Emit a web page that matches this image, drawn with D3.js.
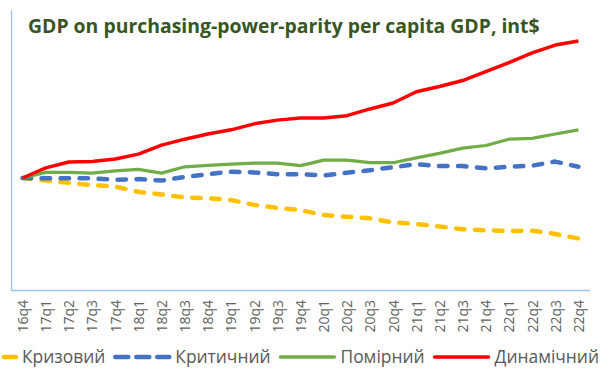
<!DOCTYPE html>
<html>
<head>
<meta charset="utf-8">
<script src="https://cdn.jsdelivr.net/npm/d3@7"></script>
<style>
  html, body { margin: 0; padding: 0; background: #fff; }
  svg { display: block; font-family: "Open Sans", "Noto Sans", sans-serif; }
</style>
</head>
<body>
<svg id="chart" width="611" height="388"></svg>
<script>
// quarters on the x axis
const quarters = ['16q4', '17q1', '17q2', '17q3', '17q4', '18q1', '18q2', '18q3', '18q4',
    '19q1', '19q2', '19q3', '19q4', '20q1', '20q2', '20q3', '20q4',
    '21q1', '21q2', '21q3', '21q4', '22q1', '22q2', '22q3', '22q4'];

// index values, 16q4 = 100
const krizovyi = [100, 99.3, 98.7, 98.1, 97.7, 96.3, 95.6, 94.8, 94.6, 94.1, 92.8, 92.0, 91.4,
    90.1, 89.6, 89.2, 88.1, 87.7, 87.0, 86.3, 86.0, 85.8, 85.9, 85.0, 83.8];
const krytychnyi = [100, 99.9, 99.9, 99.9, 99.5, 99.7, 99.3, 100.3, 101.0, 101.7, 101.5, 101.0, 101.0,
    100.7, 101.4, 102.1, 102.9, 103.7, 103.2, 103.2, 102.6, 103.0, 103.3, 104.4, 103.0];
const pomirnyi = [100, 101.5, 101.5, 101.3, 101.9, 102.3, 101.3, 103.0, 103.4, 103.7, 104.0, 104.0, 103.3,
    104.8, 104.8, 104.1, 104.1, 105.4, 106.6, 108.0, 108.7, 110.4, 110.6, 111.8, 112.9];
const dynamichnyi = [100, 102.7, 104.3, 104.4, 105.1, 106.4, 108.8, 110.4, 111.8, 112.9, 114.5, 115.5, 116.1,
    116.1, 116.7, 118.5, 120.1, 123.1, 124.5, 126.1, 128.5, 130.9, 133.5, 135.6, 136.7];

const seriesNames = ['Кризовий', 'Критичний', 'Помірний', 'Динамічний'];
const title = 'GDP on purchasing-power-parity per capita GDP, int$';

const series = [
    { name: seriesNames[0], values: krizovyi, color: '#FFC000', width: 4.5, dash: '8.5,10.5', legendDash: '13,8' },
    { name: seriesNames[1], values: krytychnyi, color: '#4472C4', width: 4.5, dash: '8.5,10.5', legendDash: '13,8' },
    { name: seriesNames[2], values: pomirnyi, color: '#70AD47', width: 3.2, dash: null },
    { name: seriesNames[3], values: dynamichnyi, color: '#FF0000', width: 3.5, dash: null }
];

const svg = d3.select('#chart');
const plot = { left: 11, right: 590, top: 10, bottom: 290 };

const x = d3.scalePoint()
    .domain(quarters)
    .range([plot.left, plot.right])
    .padding(0.5);

const y = d3.scaleLinear()
    .domain([70, 145])
    .range([plot.bottom, plot.top]);

// axis lines
const axisColor = '#9dc3e6';
svg.append('line')
    .attr('x1', plot.left + 0.5).attr('x2', plot.left + 0.5)
    .attr('y1', plot.top).attr('y2', plot.bottom)
    .attr('stroke', axisColor).attr('stroke-width', 1.3);

const xAxis = svg.append('g')
    .attr('transform', `translate(0,${plot.bottom})`)
    .call(d3.axisBottom(x).tickSize(0).tickPadding(0));
xAxis.select('.domain')
    .attr('d', `M${plot.left},0.5H${plot.right}`)
    .attr('stroke', axisColor).attr('stroke-width', 1.3);
xAxis.selectAll('text')
    .attr('transform', 'rotate(-90)')
    .attr('x', -10)
    .attr('y', 0)
    .attr('dy', '0.35em')
    .attr('text-anchor', 'end')
    .attr('fill', '#606060')
    .style('font-family', '"Open Sans", sans-serif')
    .style('font-size', '14px');

// lines
const line = d3.line()
    .x((d, i) => x(quarters[i]))
    .y(d => y(d));

svg.append('g')
    .selectAll('path')
    .data(series)
    .enter().append('path')
    .attr('d', d => line(d.values))
    .attr('fill', 'none')
    .attr('stroke', d => d.color)
    .attr('stroke-width', d => d.width)
    .attr('stroke-dasharray', d => d.dash)
    .attr('stroke-linecap', d => d.dash ? 'round' : 'butt')
    .attr('stroke-linejoin', 'round');

// title
const titleText = svg.append('text')
    .attr('x', 28)
    .attr('y', 33)
    .attr('fill', '#375623')
    .style('font-weight', 'bold')
    .style('font-size', '17px')
    .text(title);
const tw = titleText.node().getComputedTextLength();
titleText.style('font-size', (17 * 512 / tw) + 'px');

// legend
const legend = svg.append('g');
let lx = -38;
const ly = 357;
series.forEach(s => {
    legend.append('line')
        .attr('x1', lx).attr('x2', lx + 54)
        .attr('y1', ly).attr('y2', ly)
        .attr('stroke', s.color)
        .attr('stroke-width', s.dash ? 4.5 : 3.5)
        .attr('stroke-dasharray', s.legendDash || null)
        .attr('stroke-linecap', 'round');
    const t = legend.append('text')
        .attr('x', lx + 60)
        .attr('y', ly)
        .attr('dy', '0.36em')
        .attr('fill', '#595959')
        .style('font-size', '17.4px')
        .text(s.name);
    lx = lx + 60 + t.node().getComputedTextLength() + 10;
});
</script>
</body>
</html>
